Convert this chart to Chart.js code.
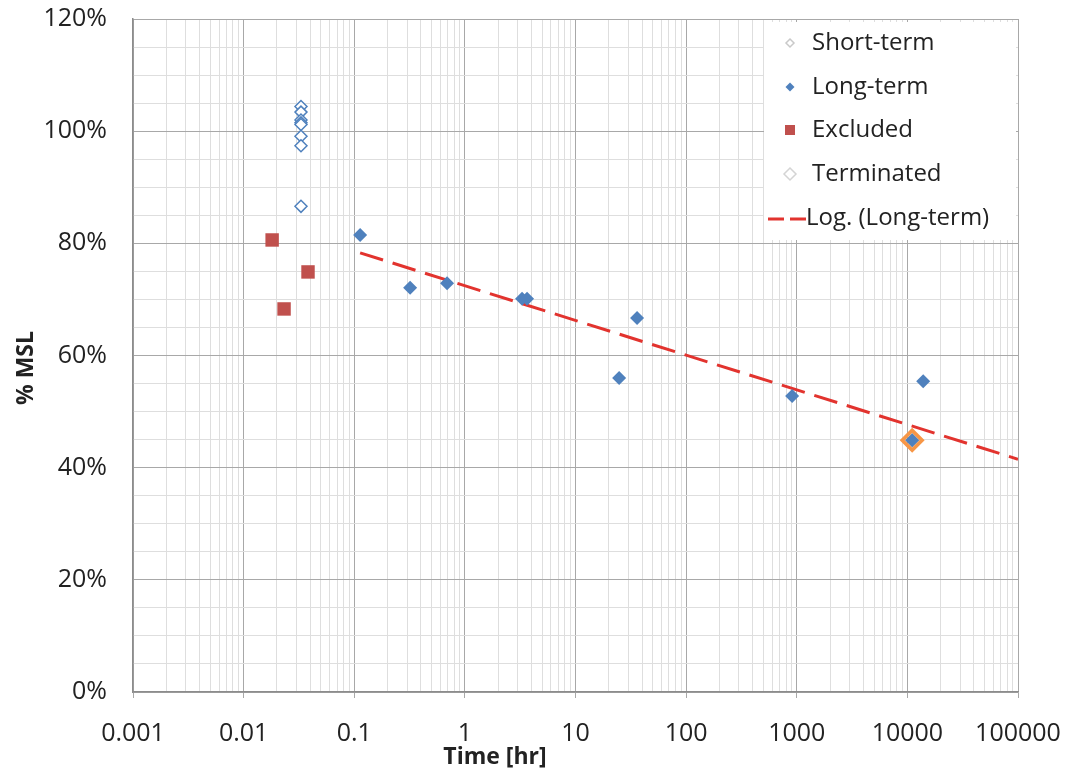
<!DOCTYPE html>
<html><head><meta charset="utf-8">
<script src="https://cdn.jsdelivr.net/npm/chart.js@4/dist/chart.umd.min.js"></script>
<style>html,body{margin:0;padding:0;background:#fff}#wrap{width:1068px;height:770px;position:relative}</style>
</head><body><div id="wrap"><canvas id="c" width="1068" height="770"></canvas></div>
<script>
// ---- data ----
const xDecades = [0.001, 0.01, 0.1, 1, 10, 100, 1000, 10000, 100000];
const xTickLabels = ['0.001', '0.01', '0.1', '1', '10', '100', '1000', '10000', '100000'];
const yTickValues = [0, 20, 40, 60, 80, 100, 120];
const yTickLabels = ['0%', '20%', '40%', '60%', '80%', '100%', '120%'];

const shortTermX = [0.033, 0.033, 0.033, 0.033, 0.033, 0.033, 0.033, 0.033];
const shortTermY = [104.4, 103.4, 102.0, 101.5, 101.2, 99.1, 97.4, 86.6];

const longTermX = [0.113, 0.32, 0.69, 3.29, 3.65, 24.8, 36.0, 908, 13900, 11050];
const longTermY = [81.5, 72.1, 72.9, 70.1, 70.1, 56.0, 66.7, 52.8, 55.4, 44.9];

const excludedX = [0.0181, 0.0232, 0.0382];
const excludedY = [80.6, 68.3, 74.9];

const terminatedX = [11050];
const terminatedY = [44.9];

const trendX = [0.113, 100000];
const trendY = [78.3, 41.5];

const seriesNames = ['Short-term', 'Long-term', 'Excluded', 'Terminated', 'Log. (Long-term)'];
const xTitle = 'Time [hr]';
const yTitle = '% MSL';

// ---- helpers ----
const pts = (xs, ys) => xs.map((x, i) => ({x: x, y: ys[i]}));
const isDecade = v => xDecades.some(d => Math.abs(d - v) / d < 1e-9);
const FONT = '"Open Sans", Lato, sans-serif';
const BLUE = '#4F81BD', RED = '#C0504D', ORANGE = '#F79646', TREND = '#E2332E';

const legendPlugin = {
  id: 'customLegend',
  afterDraw(chart) {
    const ctx = chart.ctx;
    ctx.save();
    const bx = 764, by = 22, bw = 252, bh = 218;
    ctx.fillStyle = '#fff';
    ctx.fillRect(bx, by, bw, bh);
    const rows = [43, 87, 130, 174, 218];
    const mx = 790, tx = 812;
    ctx.font = '24px ' + FONT;
    ctx.textBaseline = 'middle';
    ctx.textAlign = 'left';
    ctx.fillStyle = '#222';
    seriesNames.forEach((n, i) => ctx.fillText(n, i === 4 ? 806 : tx, rows[i]));
    const diamond = (x, y, r) => { ctx.beginPath(); ctx.moveTo(x, y - r); ctx.lineTo(x + r, y); ctx.lineTo(x, y + r); ctx.lineTo(x - r, y); ctx.closePath(); };
    ctx.lineWidth = 1.5; ctx.strokeStyle = '#c9c9c9'; ctx.fillStyle = '#fff';
    diamond(mx, rows[0], 4); ctx.fill(); ctx.stroke();
    ctx.fillStyle = BLUE; diamond(mx, rows[1], 4.5); ctx.fill();
    ctx.fillStyle = RED; ctx.fillRect(mx - 5, rows[2] - 5, 10, 10);
    ctx.strokeStyle = '#d4d4d4'; ctx.lineWidth = 1.5; ctx.fillStyle = '#fff';
    diamond(mx, rows[3], 6); ctx.fill(); ctx.stroke();
    ctx.strokeStyle = TREND; ctx.lineWidth = 3; ctx.setLineDash([16, 6]);
    ctx.beginPath(); ctx.moveTo(768, rows[4] + 1); ctx.lineTo(806, rows[4] + 1); ctx.stroke();
    ctx.setLineDash([]);
    // axis titles
    ctx.fillStyle = '#222';
    ctx.font = 'bold 23px ' + FONT;
    ctx.textAlign = 'center';
    ctx.fillText(xTitle, 495, 757);
    ctx.translate(26, 368);
    ctx.rotate(-Math.PI / 2);
    ctx.fillText(yTitle, 0, 0);
    ctx.restore();
  }
};

new Chart(document.getElementById('c'), {
  type: 'scatter',
  data: {
    datasets: [
      {label: seriesNames[0], data: pts(shortTermX, shortTermY), pointStyle: 'rectRot', pointRadius: 6,
        pointBackgroundColor: '#fff', pointBorderColor: BLUE, pointBorderWidth: 1.5},
      {label: seriesNames[2], data: pts(excludedX, excludedY), pointStyle: 'rect', pointRadius: 9.5,
        pointBackgroundColor: RED, pointBorderColor: RED, pointBorderWidth: 0},
      {label: seriesNames[1], data: pts(longTermX, longTermY), pointStyle: 'rectRot', pointRadius: 7,
        pointBackgroundColor: BLUE, pointBorderColor: BLUE, pointBorderWidth: 0},
      {label: seriesNames[3], data: pts(terminatedX, terminatedY), pointStyle: 'rectRot', pointRadius: 10,
        pointBackgroundColor: 'rgba(247,150,70,0.5)', pointBorderColor: ORANGE, pointBorderWidth: 3.5},
      {label: seriesNames[4], type: 'line', data: pts(trendX, trendY), borderColor: TREND, borderWidth: 3,
        borderDash: [24, 10], pointRadius: 0, fill: false, showLine: true}
    ]
  },
  options: {
    responsive: false,
    animation: false,
    layout: {padding: {top: 19, right: 50, left: 0, bottom: 0}},
    plugins: {legend: {display: false}, tooltip: {enabled: false}},
    scales: {
      x: {
        type: 'logarithmic', min: 0.001, max: 100000,
        afterBuildTicks(scale) {
          const t = [];
          xDecades.forEach((d, i) => {
            t.push({value: d});
            if (i < xDecades.length - 1) for (let k = 2; k < 10; k++) t.push({value: d * k});
          });
          scale.ticks = t;
        },
        afterFit(scale) { scale.height = 78; scale.paddingLeft = 0; scale.paddingRight = 0; },
        ticks: {
          autoSkip: false, maxRotation: 0, padding: 21,
          font: {family: FONT, size: 25}, color: '#222',
          callback(v) { const i = xDecades.findIndex(d => Math.abs(d - v) / d < 1e-9); return i >= 0 ? xTickLabels[i] : ''; }
        },
        grid: {
          color: c => (c.tick && isDecade(c.tick.value)) ? '#a8a8a8' : '#dedede',
          tickColor: c => (c.tick && isDecade(c.tick.value)) ? '#a8a8a8' : 'rgba(0,0,0,0)',
          tickLength: 6, lineWidth: 1
        },
        border: {color: '#8c8c8c', width: 1.5}
      },
      y: {
        min: 0, max: 120,
        afterBuildTicks(scale) {
          const t = [];
          for (let v = 0; v <= 120; v += 5) t.push({value: v});
          scale.ticks = t;
        },
        afterFit(scale) { scale.width = 133; scale.paddingTop = 0; scale.paddingBottom = 0; },
        ticks: {
          autoSkip: false, padding: 26,
          font: {family: FONT, size: 25}, color: '#222',
          callback(v) { const i = yTickValues.indexOf(v); return i >= 0 ? yTickLabels[i] : ''; }
        },
        grid: {
          drawTicks: false,
          color: c => (c.tick && c.tick.value % 20 === 0) ? '#a8a8a8' : '#dedede',
          lineWidth: 1
        },
        border: {color: '#8c8c8c', width: 1.5}
      }
    }
  },
  plugins: [legendPlugin]
});
</script>
</body></html>
